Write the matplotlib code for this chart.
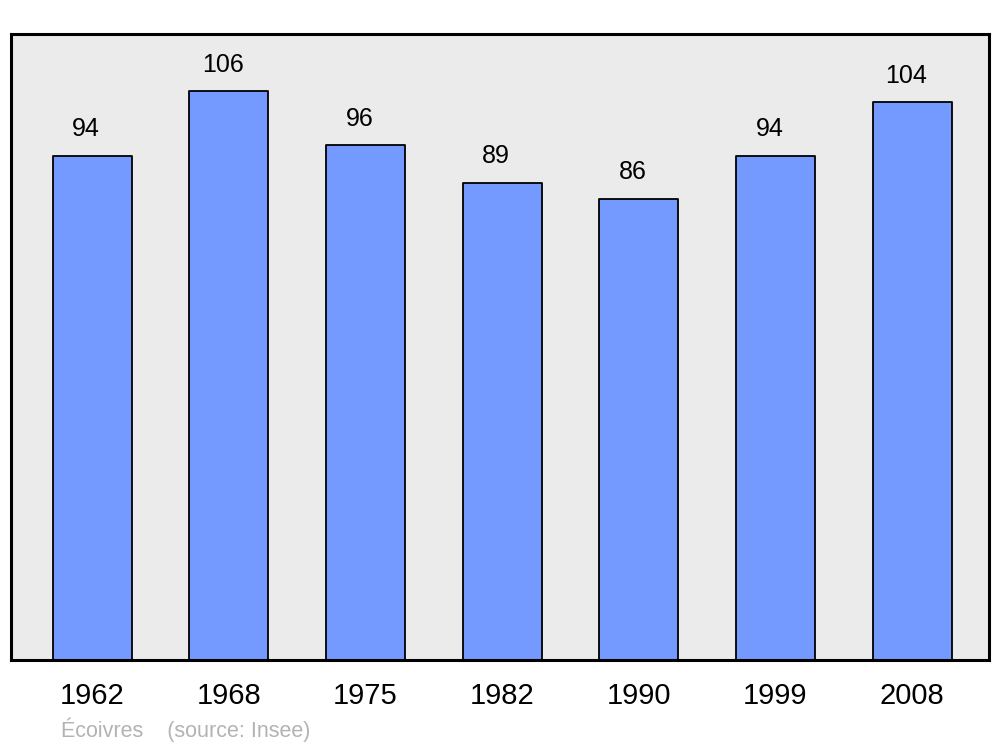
import matplotlib
matplotlib.use('Agg')
from matplotlib import pyplot as plt

plt.rcParams['font.family'] = ['Liberation Sans', 'DejaVu Sans']

# Population data
years = ['1962', '1968', '1975', '1982', '1990', '1999', '2008']
population = [94, 106, 96, 89, 86, 94, 104]

fig = plt.figure(figsize=(10, 7.47), dpi=100)
ax = fig.add_axes([0.011, 1 - 660 / 747, 0.978, 626 / 747])
ax.set_facecolor('#ebebeb')

positions = list(range(len(years)))
bars = ax.bar(positions, population, width=0.578, color='#7499ff',
              edgecolor='black', linewidth=1.3, zorder=2)
for b in bars:
    b.set_joinstyle('round')

for x, v in zip(positions, population):
    ax.text(x - 0.045, v + 4.9, str(v), ha='center', va='center', fontsize=18)

ax.set_xlim(-0.593, 6.562)
ax.set_ylim(0, 116.7)
ax.set_yticks([])
ax.set_xticks(positions)
ax.set_xticklabels(years, fontsize=21)
ax.tick_params(axis='x', length=0, pad=16)

for spine in ax.spines.values():
    spine.set_linewidth(2.2)
    spine.set_joinstyle('round')

fig.text(0.061, 1 - 730 / 747, 'Écoivres    (source: Insee)', color='#b3b3b3',
         fontsize=15.5, va='center', ha='left')

fig.savefig('out.png', dpi=100)
